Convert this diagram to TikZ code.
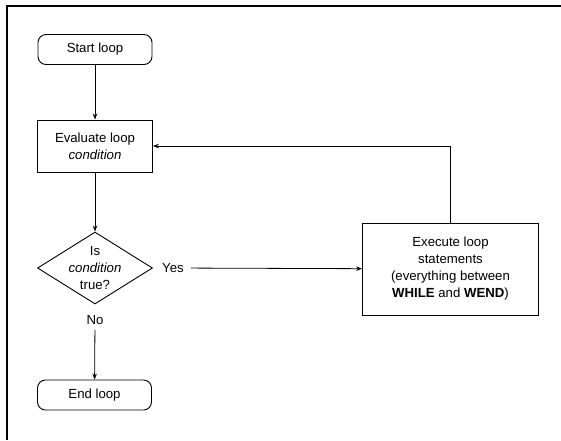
\documentclass[tikz,border=0pt]{standalone}
\usepackage{fontspec}
\setmainfont{Liberation Sans}
\usetikzlibrary{shapes.geometric,arrows.meta}
\begin{document}
\begin{tikzpicture}[x=1pt,y=-1pt,
  every node/.style={font=\fontsize{13.2}{17}\selectfont, inner sep=0pt},
  term/.style={draw, line width=0.9pt, rounded corners=8pt, minimum width=114pt, minimum height=30pt},
  procbox/.style={draw, line width=0.9pt, align=center},
  decide/.style={draw, line width=0.9pt, diamond, minimum width=115pt, minimum height=72pt, inner sep=0pt},
  arr/.style={line width=0.8pt, -{Stealth[length=6pt,width=4.5pt]}},
  plain/.style={line width=0.8pt}]
\useasboundingbox (0,0) rectangle (561,440);
\coordinate (fbl) at (7,440);
\coordinate (ftl) at (7,6);
\coordinate (ftr) at (561,6);
\draw[line width=1.2pt] (fbl) -- (ftl) -- (ftr);
\node[term] (start) at (95,49.5) {Start loop};
\node[procbox, minimum width=115pt, minimum height=52pt] (eval) at (95,146) {Evaluate loop\\\textit{condition}};
\node[decide] (cond) at (95,268) {};
\node[align=center] (condtext) at (cond.center) {Is\\\textit{condition}\\true?};
\node (yes) at (173,268) {Yes};
\node (no) at (95,320) {No};
\node[term] (end) at (94.5,395) {End loop};
\node[procbox, minimum width=176pt, minimum height=92pt] (exec) at (450.5,269) {Execute loop\\statements\\(everything between\\\textbf{WHILE} and \textbf{WEND})};
\draw[arr] (start) -- (eval);
\draw[arr] (eval) -- (cond);
\draw[arr, shorten <=7pt] (yes) -- (exec);
\draw[arr, shorten <=5pt] (no) -- (end);
\draw[arr] (exec.north) |- (eval.east);
\end{tikzpicture}
\end{document}
